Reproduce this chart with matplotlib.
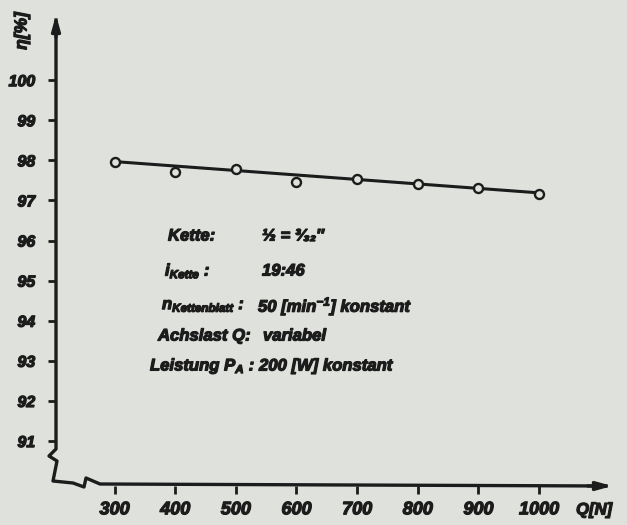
import matplotlib
matplotlib.use("Agg")
import matplotlib.pyplot as plt
import matplotlib.patheffects as pe

# Schriften: Handschrift-Ersatz, fett kursiv
matplotlib.rcParams['font.family'] = ['Liberation Sans', 'DejaVu Sans']
matplotlib.rcParams['font.weight'] = 'bold'
matplotlib.rcParams['font.style'] = 'italic'
matplotlib.rcParams['mathtext.fontset'] = 'custom'
matplotlib.rcParams['mathtext.rm'] = 'Liberation Sans:bold:italic'
matplotlib.rcParams['mathtext.it'] = 'Liberation Sans:bold:italic'
matplotlib.rcParams['mathtext.bf'] = 'Liberation Sans:bold:italic'

# Messwerte: Wirkungsgrad über Achslast
last_q = [300, 400, 500, 600, 700, 800, 900, 1000]
eta = [97.96, 97.70, 97.78, 97.46, 97.53, 97.42, 97.31, 97.16]

# Ausgleichsgerade
trend_q = [300, 1000]
trend_eta = [97.97, 97.19]

x_ticks = [300, 400, 500, 600, 700, 800, 900, 1000]
y_ticks = [91, 92, 93, 94, 95, 96, 97, 98, 99, 100]

info_keys = ["Kette:", r"$i_{Kette}$ :", r"$n_{Kettenblatt}$ :", "Achslast Q:", r"Leistung $P_A$ :"]
info_vals = ["½ = ³⁄₃₂″", "19:46", r"50 [min$^{-1}$] konstant", "variabel", "200 [W] konstant"]

PAPER = '#dfe2dc'
INK = '#1c1c1c'
W, H = 627, 525
thick = [pe.withStroke(linewidth=0.9, foreground=INK)]


def fx(x):
    return x / W


def fy(y):
    return 1 - y / H


fig = plt.figure(figsize=(6.27, 5.25), dpi=100, facecolor=PAPER)
ax = fig.add_axes([fx(56), fy(486), fx(613) - fx(56), fy(14) - fy(486)])
ax.set_facecolor(PAPER)
ax.set_xlim(203.5, 1122)
ax.set_ylim(89.88, 101.65)

for s in ax.spines.values():
    s.set_visible(False)

ax.plot(trend_q, trend_eta, color=INK, lw=2.2, zorder=2)
ax.plot(last_q, eta, ls='none', marker='o', ms=6.5, mfc=PAPER, mec=INK, mew=1.7, zorder=3)

ax.set_xticks(x_ticks)
ax.set_yticks(y_ticks)
ax.set_xticklabels([str(v) for v in x_ticks])
ax.set_yticklabels([str(v) for v in y_ticks])
ax.tick_params(axis='x', direction='out', length=6, width=2, color=INK, pad=5, labelsize=13, labelcolor=INK)
ax.tick_params(axis='y', direction='out', length=6, width=2, color=INK, pad=9, labelsize=11.5, labelcolor=INK)
for lab in ax.get_xticklabels() + ax.get_yticklabels():
    lab.set_path_effects(thick)

# Achsen von Hand gezeichnet, mit Bruchstelle unten links
axis_x = [56, 56, 49, 57, 53, 73, 84, 86, 100, 606]
axis_y = [20, 449, 456, 461, 481, 483, 487, 478, 484, 486]
ax.plot([fx(v) for v in axis_x], [fy(v) for v in axis_y], transform=fig.transFigure,
        color=INK, lw=2.4, clip_on=False, solid_joinstyle='round')
ax.annotate('', xy=(fx(56), fy(12)), xytext=(fx(56), fy(40)), xycoords='figure fraction',
            arrowprops=dict(arrowstyle='-|>,head_length=0.9,head_width=0.25', color=INK, lw=2.4))
ax.annotate('', xy=(fx(615), fy(486)), xytext=(fx(585), fy(486)), xycoords='figure fraction',
            arrowprops=dict(arrowstyle='-|>,head_length=0.9,head_width=0.25', color=INK, lw=2.4))

fig.text(fx(22), fy(31), "η[%]", rotation=90, ha='center', va='center', fontsize=12.5, color=INK,
         path_effects=thick)
fig.text(fx(594), fy(510), "Q[N]", ha='center', va='center', fontsize=12, color=INK, path_effects=thick)

key_x = [168, 165, 162, 158, 150]
row_y = [236, 271, 306, 336, 366]
val_x = [262, 262, 258, 263, 259]
for k, v, kx, vx, ry in zip(info_keys, info_vals, key_x, val_x, row_y):
    fig.text(fx(kx), fy(ry), k, ha='left', va='center', fontsize=12, color=INK, path_effects=thick)
    fig.text(fx(vx), fy(ry), v, ha='left', va='center', fontsize=12, color=INK, path_effects=thick)

fig.savefig('out.png', dpi=100, facecolor=PAPER)
